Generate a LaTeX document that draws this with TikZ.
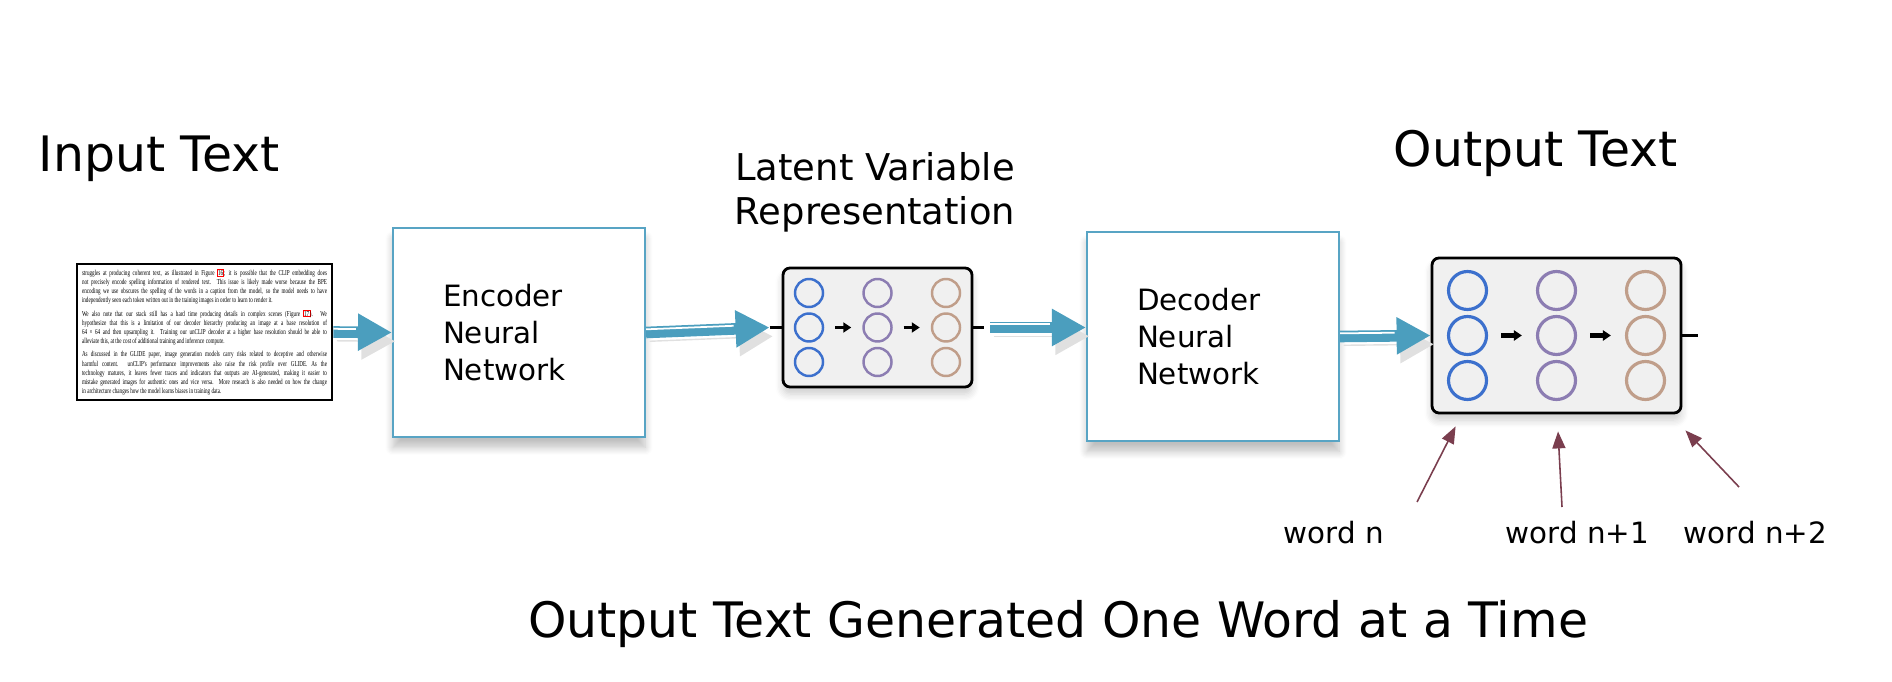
\documentclass[tikz,border=0pt]{standalone}
\usepackage{fontspec}
\setmainfont{DejaVu Sans}
\newfontfamily\docfont{Liberation Serif}
\usepackage{graphicx}
\usepackage{xcolor}
\definecolor{arrowblue}{RGB}{75, 158, 190}
\definecolor{boxblue}{RGB}{88, 164, 196}
\definecolor{nnblue}{RGB}{60, 112, 205}
\definecolor{nnpurple}{RGB}{140, 125, 178}
\definecolor{nntan}{RGB}{192, 158, 138}
\definecolor{panelgray}{RGB}{240, 240, 240}
\definecolor{wordred}{RGB}{122, 62, 78}
\usepackage{tikz}
\usetikzlibrary{
    arrows.meta,
    positioning,
    calc,
    shadows.blur
}
% justified and ragged lines of the scanned page
\newcommand{\jline}[1]{\hbox to \hsize{#1}}
\newcommand{\rline}[1]{\hbox{#1}}
\newcommand{\reflink}[1]{{\setlength{\fboxsep}{0.15pt}\setlength{\fboxrule}{0.2pt}\fcolorbox{red}{white}{#1}}}
\newcommand{\doctext}{\resizebox*{2.45cm}{1.26cm}{\parbox{120pt}{\docfont\fontsize{2.5}{3}\selectfont
\jline{struggles at producing coherent text, as illustrated in Figure \reflink{16}; it is possible that the CLIP embedding does}
\jline{not precisely encode spelling information of rendered text. This issue is likely made worse because the BPE}
\jline{encoding we use obscures the spelling of the words in a caption from the model, so the model needs to have}
\rline{independently seen each token written out in the training images in order to learn to render it.}
\vspace{1.5pt}
\jline{We also note that our stack still has a hard time producing details in complex scenes (Figure \reflink{17}). We}
\jline{hypothesize that this is a limitation of our decoder hierarchy producing an image at a base resolution of}
\jline{64 × 64 and then upsampling it. Training our unCLIP decoder at a higher base resolution should be able to}
\rline{alleviate this, at the cost of additional training and inference compute.}
\vspace{1.5pt}
\jline{As discussed in the GLIDE paper, image generation models carry risks related to deceptive and otherwise}
\jline{harmful content. unCLIP's performance improvements also raise the risk profile over GLIDE. As the}
\jline{technology matures, it leaves fewer traces and indicators that outputs are AI-generated, making it easier to}
\jline{mistake generated images for authentic ones and vice versa. More research is also needed on how the change}
\rline{in architecture changes how the model learns biases in training data.}
}}}
\tikzstyle{title} = [
    inner sep=0pt,
    font=\fontsize{13.9}{16}\selectfont
]
\tikzstyle{subtitle} = [
    inner sep=0pt,
    align=center,
    font=\fontsize{10.5}{12.8}\selectfont
]
\tikzstyle{word} = [
    inner sep=0pt,
    font=\fontsize{8.35}{10}\selectfont
]
\tikzstyle{docbox} = [
    rectangle,
    draw=black,
    line width=0.8pt,
    fill=white,
    inner sep=0.05cm
]
\tikzstyle{netbox} = [
    rectangle,
    draw=boxblue,
    line width=0.6pt,
    fill=white,
    minimum height=2.09cm,
    text width=1.52cm,
    inner xsep=0.5cm,
    align=left,
    font=\fontsize{8.35}{10.5}\selectfont,
    blur shadow={shadow xshift=0pt, shadow yshift=-3pt, shadow opacity=25, shadow blur steps=8}
]
\tikzstyle{panel} = [
    rectangle,
    rounded corners=2pt,
    draw=black,
    line width=0.8pt,
    fill=panelgray,
    blur shadow={shadow xshift=0pt, shadow yshift=-2pt, shadow opacity=20, shadow blur steps=6}
]
\tikzstyle{neuron} = [
    circle,
    inner sep=0pt
]
\tikzstyle{tick} = [
    draw=black,
    line width=0.8pt
]
\tikzstyle{bigarrow} = [
    draw=arrowblue,
    line width=3.3pt,
    -{Triangle[length=0.34cm, width=0.35cm]},
    preaction={draw=black!12, transform canvas={xshift=1pt, yshift=-2.5pt}},
    postaction={draw=white, line width=0.5pt, -, shorten >=0.36cm, transform canvas={yshift=0.9pt}}
]
\tikzstyle{netarrow} = [
    draw=black,
    line width=1pt,
    -{Triangle[length=0.08cm, width=0.1cm]}
]
\tikzstyle{wordarrow} = [
    draw=wordred,
    line width=0.45pt,
    -{Triangle[length=0.17cm, width=0.13cm]}
]

\begin{document}
\begin{tikzpicture}
    \useasboundingbox (0,0) rectangle (18.92,-6.82);

    % Titles
    \node[title, anchor=base west] (intitle) at (0.38,-1.72) {Input Text};
    \node[title, anchor=base west] (outtitle) at (13.93,-1.67) {Output Text};
    \node[subtitle, anchor=base] (lattitle) at (8.75,-2.25) {Latent Variable\\Representation};

    % Input document
    \node[docbox] (doc) at (2.045,-3.32) {\doctext};

    % Encoder and Decoder
    \node[netbox] (enc) at (5.19,-3.325) {Encoder\\Neural\\Network};
    \node[netbox] (dec) at (12.13,-3.365) {Decoder\\Neural\\Network};

    % Latent representation panel
    \node[panel, minimum width=1.89cm, minimum height=1.19cm] (lat) at (8.775,-3.275) {};
    \foreach \c/\col in {1/nnblue,2/nnpurple,3/nntan}
        \foreach \r in {1,2,3}
            \node[neuron, draw=\col, line width=0.7pt, minimum size=0.28cm] (lat-\c-\r) at ([xshift={(\c-2)*0.685cm}, yshift={(2-\r)*0.345cm}]lat.center) {};
    \draw[netarrow, shorten <=0.11cm, shorten >=0.11cm] (lat-1-2) -- (lat-2-2);
    \draw[netarrow, shorten <=0.11cm, shorten >=0.11cm] (lat-2-2) -- (lat-3-2);

    % Output panel
    \node[panel, minimum width=2.49cm, minimum height=1.55cm] (out) at (15.565,-3.355) {};
    \foreach \c/\col in {1/nnblue,2/nnpurple,3/nntan}
        \foreach \r in {1,2,3}
            \node[neuron, draw=\col, line width=0.9pt, minimum size=0.38cm] (out-\c-\r) at ([xshift={(\c-2)*0.89cm}, yshift={(2-\r)*0.45cm}]out.center) {};
    \draw[netarrow, line width=1.2pt, shorten <=0.13cm, shorten >=0.14cm] (out-1-2) -- (out-2-2);
    \draw[netarrow, line width=1.2pt, shorten <=0.13cm, shorten >=0.14cm] (out-2-2) -- (out-3-2);

    % Ticks on the panels
    \coordinate (latin) at ([xshift=-0.12cm]lat.west);
    \coordinate (latout) at ([xshift=0.11cm]lat.east);
    \coordinate (outout) at ([xshift=0.16cm]out.east);
    \draw[tick] (latin) -- (lat.west);
    \draw[tick] (lat.east) -- (latout);
    \draw[tick] (out.east) -- (outout);

    % Main flow
    \draw[bigarrow] (doc.east) -- (enc.west);
    \draw[bigarrow] (enc.east) -- (latin);
    \draw[bigarrow] ([xshift=0.06cm]latout) -- (latout -| dec.west);
    \draw[bigarrow] (dec.east) -- (out.west);

    % Word labels
    \node[word, anchor=base west] (wn) at (12.83,-5.43) {word n};
    \node[word, anchor=base west] (wn1) at (15.05,-5.43) {word n+1};
    \node[word, anchor=base west] (wn2) at (16.83,-5.43) {word n+2};
    \coordinate (tailn) at (14.17,-5.02);
    \coordinate (tailn1) at (15.62,-5.07);
    \coordinate (tailn2) at (17.39,-4.87);
    \draw[wordarrow] (tailn) -- ([xshift=0.25cm, yshift=-0.12cm]out.south west);
    \draw[wordarrow] (tailn1) -- ([xshift=0.015cm, yshift=-0.17cm]out.south);
    \draw[wordarrow] (tailn2) -- ([xshift=0.03cm, yshift=-0.16cm]out.south east);

    % Caption
    \node[title, anchor=base] (caption) at (10.58,-6.37) {Output Text Generated One Word at a Time};

\end{tikzpicture}
\end{document}
